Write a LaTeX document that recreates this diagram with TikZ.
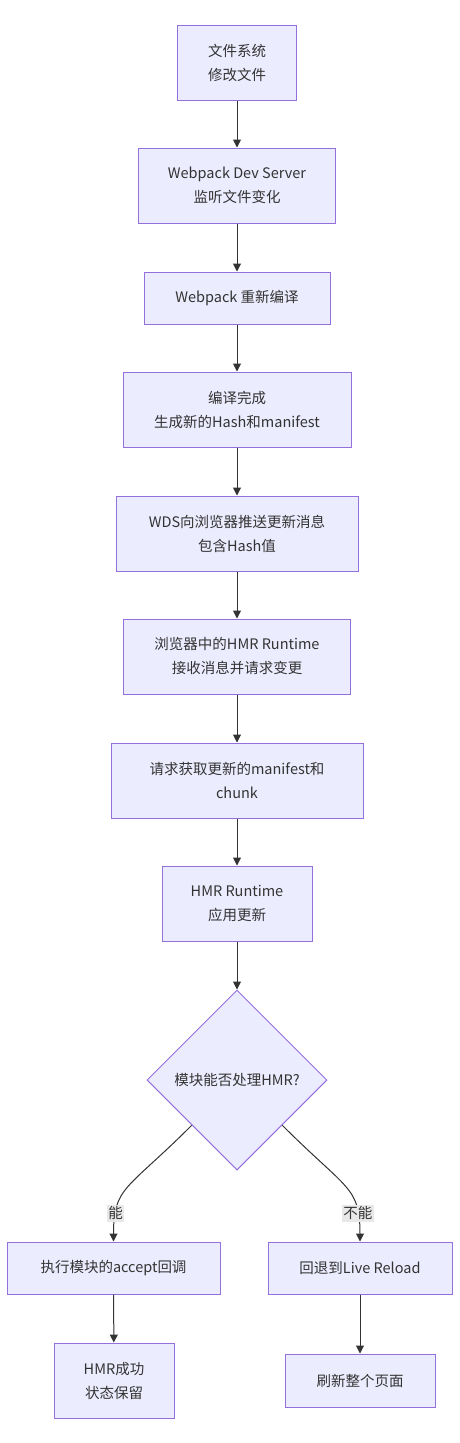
\documentclass[tikz,border=0pt]{standalone}
\usepackage{fontspec}
\setmainfont{Noto Sans CJK SC}
\usetikzlibrary{shapes.geometric,arrows.meta}
\definecolor{boxfill}{HTML}{ECECFF}
\definecolor{boxline}{HTML}{9370DB}
\definecolor{ink}{HTML}{333333}
\definecolor{lblfill}{HTML}{E8E8E8}
\begin{document}
\begin{tikzpicture}[x=1pt, y=-1pt,
	box/.style={rectangle, draw=boxline, fill=boxfill, line width=1pt, align=center, text=ink, font=\fontsize{14.5}{24}\selectfont, inner sep=0pt, minimum height=75pt},
	decision/.style={diamond, draw=boxline, fill=boxfill, line width=1pt, align=center, text=ink, font=\fontsize{14.5}{24}\selectfont, inner sep=0pt, minimum width=180pt, minimum height=180pt},
	arr/.style={draw=ink, line width=1pt, -{Triangle[length=8pt, width=8pt]}},
	lbl/.style={fill=lblfill, text=ink, inner sep=1.5pt, font=\fontsize{14.5}{16}\selectfont}]
			\useasboundingbox (0,0) rectangle (460,1443);
			\node[box, minimum width=119pt] at (237,62.5) (1) {文件系统\\修改文件};
			\node[box, minimum width=197pt] at (237,185.5) (2) {Webpack Dev Server\\监听文件变化};
			\node[box, minimum width=186pt, minimum height=52pt] at (237,298) (3) {Webpack 重新编译};
			\node[box, minimum width=228pt] at (237,409.5) (4) {编译完成\\生成新的Hash和manifest};
			\node[box, minimum width=242pt] at (237,533.5) (5) {WDS向浏览器推送更新消息\\包含Hash值};
			\node[box, minimum width=227pt] at (237,656.5) (6) {浏览器中的HMR Runtime\\接收消息并请求变更};
			\node[box, minimum width=252pt] at (237,780.5) (7) {请求获取更新的manifest和\\chunk};
			\node[box, minimum width=150pt] at (237,903.5) (8) {HMR Runtime\\应用更新};
			\node[decision] at (237,1080) (9) {模块能否处理HMR?};
			\node[box, minimum width=213pt, minimum height=52pt] at (113.5,1268) (10) {执行模块的accept回调};
			\node[box, minimum width=184pt, minimum height=52pt] at (360,1268) (11) {回退到Live Reload};
			\node[box, minimum width=120pt] at (114,1380.5) (12) {HMR成功\\状态保留};
			\node[box, minimum width=150pt, minimum height=53pt] at (360,1380.5) (13) {刷新整个页面};
			\draw[arr] (1) -- (2);
			\draw[arr] (2) -- (3);
			\draw[arr] (3) -- (4);
			\draw[arr] (4) -- (5);
			\draw[arr] (5) -- (6);
			\draw[arr] (6) -- (7);
			\draw[arr] (7) -- (8);
			\draw[arr] (8) -- (9);
			\draw[arr] (9.south west) .. controls +(-65,65) and +(0,-55) .. node[lbl, pos=0.79] {能} (10.north);
			\draw[arr] (9.south east) .. controls +(65,65) and +(0,-55) .. node[lbl, pos=0.79] {不能} (11.north);
			\draw[arr] (10) -- (12);
			\draw[arr] (11) -- (13);
		\end{tikzpicture}
\end{document}
